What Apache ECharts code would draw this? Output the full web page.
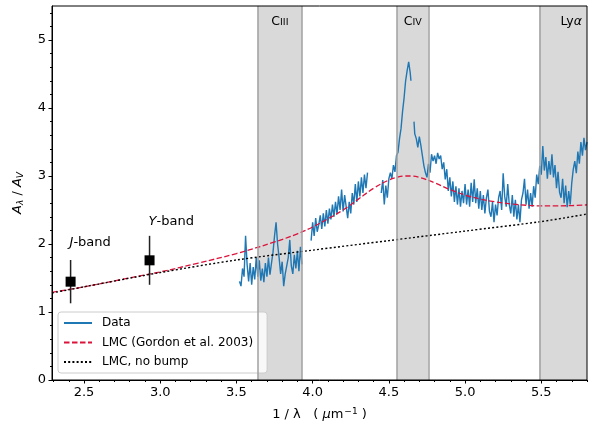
<!DOCTYPE html>
<html>
<head>
<meta charset="utf-8">
<script src="https://cdn.jsdelivr.net/npm/echarts@6.0.0/dist/echarts.min.js"></script>
<style>
  html, body { margin: 0; padding: 0; background: #fff; }
  #main { width: 596px; height: 423px; }
</style>
</head>
<body>
<div id="main"></div>
<script>
// tick values
const xTicks = [2.5, 3.0, 3.5, 4.0, 4.5, 5.0, 5.5]
const xMinorTicks = [2.3, 2.4, 2.6, 2.7, 2.8, 2.9, 3.1, 3.2, 3.3, 3.4, 3.6, 3.7, 3.8, 3.9,
	4.1, 4.2, 4.3, 4.4, 4.6, 4.7, 4.8, 4.9, 5.1, 5.2, 5.3, 5.4, 5.6, 5.7, 5.8]
const yTicks = [0, 1, 2, 3, 4, 5]
const yMinorTicks = [0.2, 0.4, 0.6, 0.8, 1.2, 1.4, 1.6, 1.8, 2.2, 2.4, 2.6, 2.8,
	3.2, 3.4, 3.6, 3.8, 4.2, 4.4, 4.6, 4.8, 5.2, 5.4]

// measured spectrum, '-' = gap
const spectrum = [
	[3.52, 1.45], [3.53, 1.38], [3.54, 1.64], [3.55, 1.52], [3.56, 2.12], [3.57, 1.70], [3.58, 1.45],
	[3.59, 1.72], [3.60, 1.40], [3.61, 1.66], [3.62, 1.48], [3.63, 1.80], [3.64, 1.52], [3.65, 1.76],
	[3.66, 1.46], [3.67, 1.64], [3.68, 1.44], [3.69, 1.72], [3.70, 1.52], [3.71, 1.80], [3.72, 1.55],
	[3.73, 1.72], [3.74, 1.88], [3.75, 2.12], [3.76, 2.32], [3.77, 2.00], [3.78, 1.80], [3.79, 1.56],
	[3.80, 1.74], [3.81, 1.38], [3.82, 1.56], [3.83, 1.68], [3.84, 1.80], [3.85, 2.06], [3.86, 1.68],
	[3.87, 1.56], [3.88, 1.84], [3.89, 1.64], [3.90, 1.90], [3.91, 1.60], [3.92, 1.96], [3.93, 1.70],
	[3.96, '-'],
	[3.99, 2.05], [4.00, 2.32], [4.01, 2.12], [4.02, 2.38], [4.03, 2.18], [4.04, 2.28], [4.05, 2.42],
	[4.06, 2.22], [4.07, 2.45], [4.08, 2.26], [4.09, 2.50], [4.10, 2.30], [4.11, 2.52], [4.12, 2.36],
	[4.13, 2.58], [4.14, 2.40], [4.15, 2.62], [4.16, 2.44], [4.17, 2.70], [4.18, 2.50], [4.19, 2.80],
	[4.20, 2.48], [4.21, 2.72], [4.22, 2.55], [4.23, 2.38], [4.24, 2.62], [4.25, 2.45], [4.26, 2.75],
	[4.27, 2.58], [4.28, 2.88], [4.29, 2.62], [4.30, 2.92], [4.31, 2.70], [4.32, 2.98], [4.33, 2.75],
	[4.34, 3.02], [4.35, 2.82], [4.36, 3.05],
	[4.40, '-'],
	[4.45, 2.75], [4.46, 2.94], [4.47, 2.58], [4.48, 2.86], [4.49, 2.68], [4.50, 2.96], [4.51, 3.05],
	[4.52, 2.96], [4.53, 3.16], [4.54, 3.06], [4.55, 3.30], [4.56, 3.35], [4.57, 3.55], [4.58, 3.70],
	[4.59, 3.95], [4.60, 4.15], [4.61, 4.40], [4.62, 4.55], [4.63, 4.68], [4.64, 4.52], [4.645, 4.40],
	[4.655, '-'],
	[4.665, 3.80], [4.67, 3.62], [4.68, 3.55], [4.69, 3.42], [4.70, 3.58], [4.71, 3.45], [4.72, 3.30],
	[4.73, 3.15], [4.74, 3.05], [4.75, 2.98], [4.76, 3.18], [4.77, 3.05], [4.78, 3.32], [4.79, 3.22],
	[4.80, 3.30], [4.81, 3.18], [4.82, 3.34], [4.83, 3.25], [4.84, 3.30], [4.85, 3.10], [4.86, 3.20],
	[4.87, 2.95], [4.88, 3.10], [4.89, 2.78], [4.90, 2.98], [4.91, 2.70], [4.92, 2.92], [4.93, 2.62],
	[4.94, 2.85], [4.95, 2.58], [4.96, 2.82], [4.97, 2.55], [4.98, 2.78], [4.99, 2.60], [5.00, 2.88],
	[5.01, 2.58], [5.02, 2.80], [5.03, 2.55], [5.04, 2.90], [5.05, 2.62], [5.06, 2.95], [5.07, 2.60],
	[5.08, 2.82], [5.09, 2.52], [5.10, 2.78], [5.11, 2.50], [5.12, 2.72], [5.13, 2.45], [5.14, 2.68],
	[5.15, 2.80], [5.16, 2.48], [5.17, 2.40], [5.18, 2.62], [5.19, 2.32], [5.20, 2.58], [5.21, 2.42],
	[5.22, 2.68], [5.23, 2.78], [5.24, 2.50], [5.25, 3.04], [5.26, 2.70], [5.27, 2.55], [5.28, 2.88],
	[5.29, 2.58], [5.30, 2.45], [5.31, 2.72], [5.32, 2.40], [5.33, 2.65], [5.34, 2.36], [5.35, 2.58],
	[5.36, 2.32], [5.37, 2.65], [5.38, 2.75], [5.39, 2.96], [5.40, 2.58], [5.41, 2.80], [5.42, 2.52],
	[5.43, 2.75], [5.44, 2.55], [5.45, 2.85], [5.46, 2.68], [5.47, 3.02], [5.48, 2.88], [5.49, 3.15],
	[5.50, 3.02], [5.51, 3.44], [5.52, 3.08], [5.53, 3.28], [5.54, 2.96], [5.55, 3.22], [5.56, 3.02],
	[5.57, 3.32], [5.58, 2.98], [5.59, 3.16], [5.60, 2.82], [5.61, 3.06], [5.62, 2.76], [5.63, 2.68],
	[5.64, 2.96], [5.65, 2.60], [5.66, 2.86], [5.67, 2.54], [5.68, 2.78], [5.69, 2.58], [5.70, 2.90],
	[5.71, 3.10], [5.72, 3.22], [5.73, 3.04], [5.74, 3.36], [5.75, 3.18], [5.76, 3.50], [5.77, 3.30],
	[5.78, 3.56], [5.79, 3.38], [5.80, 3.50]
]

// LMC extinction curve (Gordon et al. 2003)
const lmcX = [2.29, 2.5, 2.75, 3.0, 3.25, 3.5, 3.75, 3.9, 4.0, 4.1, 4.2, 4.3, 4.4, 4.5, 4.55, 4.6,
	4.65, 4.7, 4.8, 4.9, 5.0, 5.1, 5.2, 5.3, 5.4, 5.5, 5.6, 5.7, 5.8]
const lmcY = [1.29, 1.37, 1.48, 1.59, 1.72, 1.86, 2.03, 2.15, 2.25, 2.37, 2.50, 2.66, 2.82, 2.94, 2.98, 3.00,
	3.00, 2.98, 2.90, 2.80, 2.72, 2.66, 2.62, 2.59, 2.57, 2.56, 2.56, 2.565, 2.575]

// LMC, no bump
const noBumpX = [2.29, 2.5, 3.0, 3.5, 4.0, 4.5, 5.0, 5.5, 5.8]
const noBumpY = [1.28, 1.37, 1.58, 1.765, 1.91, 2.05, 2.19, 2.33, 2.44]

// photometric bands
const bandNames = ['J', 'Y']
const bandX = [2.412, 2.93]
const bandY = [1.446, 1.76]
const bandLo = [1.128, 1.40]
const bandHi = [1.765, 2.12]

// emission line regions
const lineNames = ['C|III', 'C|IV', 'Ly|α']
const lineFrom = [3.64, 4.553, 5.487]
const lineTo = [3.93, 4.76, 5.8]

const FONT = 'DejaVu Sans'

const zip = (xs, ys) => xs.map((x, i) => [x, ys[i]])

const lineLabel = (name) => {
	const [a, b] = name.split('|')
	if (b === 'α') return `{n|${a}}{i|${b}}`
	return `{n|${a}}{s|${b}}`
}

const chart = echarts.init(document.getElementById('main'), null, { renderer: 'canvas' })

const option = {
	animation: false,
	textStyle: { fontFamily: FONT, color: '#000' },
	grid: {
		left: 52, right: 9, top: 6, bottom: 43, outerBoundsMode: 'none', containLabel: false,
		show: true, borderColor: '#000', borderWidth: 1, z: 10,
	},
	legend: {
		left: 58, top: 312, orient: 'vertical',
		data: ['Data', 'LMC (Gordon et al. 2003)', 'LMC, no bump'],
		itemWidth: 28, itemHeight: 12, itemGap: 7.5,
		padding: [5, 14, 5, 5],
		itemStyle: { opacity: 0 },
		backgroundColor: 'rgba(255,255,255,0.8)',
		borderColor: '#cccccc', borderWidth: 1, borderRadius: 3,
		textStyle: { fontFamily: FONT, fontSize: 12, color: '#000', padding: [0, 0, 0, 5] },
	},
	xAxis: [{
		type: 'value', min: 2.29, max: 5.8, position: 'bottom',
		splitLine: { show: false },
		axisLine: { lineStyle: { color: '#000', width: 1 } },
		axisTick: { customValues: xTicks, length: 3.5, lineStyle: { color: '#000' } },
		axisLabel: { customValues: xTicks, formatter: v => v.toFixed(1), fontSize: 13, color: '#000', margin: 6, fontFamily: FONT },
		name: '{t|1 / λ   ( }{i|μ}{t|m}{sup|−1}{t| )}',
		nameLocation: 'middle', nameGap: 27,
		nameTextStyle: {
			rich: {
				t: { fontSize: 13, fontFamily: FONT, color: '#000' },
				i: { fontSize: 13, fontFamily: FONT, fontStyle: 'italic', color: '#000' },
				sup: { fontSize: 9, fontFamily: FONT, color: '#000', verticalAlign: 'top', padding: [0, 0, 6, 1] },
			},
		},
	}, {
		type: 'value', min: 2.29, max: 5.8, position: 'bottom',
		axisLine: { show: false }, splitLine: { show: false }, axisLabel: { show: false },
		axisTick: { customValues: xMinorTicks, length: 2, lineStyle: { color: '#000' } },
	}],
	yAxis: [{
		type: 'value', min: 0, max: 5.5, position: 'left',
		splitLine: { show: false },
		axisLine: { show: true, lineStyle: { color: '#000', width: 1 } },
		axisTick: { show: true, customValues: yTicks, length: 3.5, lineStyle: { color: '#000' } },
		axisLabel: { customValues: yTicks, fontSize: 13, color: '#000', margin: 6, fontFamily: FONT },
		name: '{i|A}{sub|λ}{t| / }{i|A}{sub|V}',
		nameLocation: 'middle', nameGap: 27, nameRotate: 90,
		nameTextStyle: {
			rich: {
				t: { fontSize: 13, fontFamily: FONT, color: '#000' },
				i: { fontSize: 13, fontFamily: FONT, fontStyle: 'italic', color: '#000' },
				sub: { fontSize: 9, fontFamily: FONT, fontStyle: 'italic', color: '#000', verticalAlign: 'bottom', padding: [6, 0, 0, 0] },
			},
		},
	}, {
		type: 'value', min: 0, max: 5.5, position: 'left',
		axisLine: { show: false }, splitLine: { show: false }, axisLabel: { show: false },
		axisTick: { show: true, customValues: yMinorTicks, length: 2, lineStyle: { color: '#000' } },
	}],
	series: [
		{
			name: 'regions', type: 'line', data: [], z: 1, silent: true,
			markArea: {
				silent: true,
				itemStyle: { color: '#d9d9d9' },
				label: {
					show: true, position: 'insideTop', distance: 9,
					rich: {
						n: { fontSize: 12.5, fontFamily: FONT, color: '#000' },
						s: { fontSize: 9.5, fontFamily: FONT, color: '#000', padding: [2, 0, 0, 0] },
						i: { fontSize: 12.5, fontFamily: FONT, fontStyle: 'italic', color: '#000' },
					},
				},
				data: lineNames.map((n, i) => [
					{ xAxis: lineFrom[i], name: n, label: { formatter: lineLabel(n), offset: [i === 2 ? 8 : 0, 0] } },
					{ xAxis: lineTo[i] },
				]),
			},
			markLine: {
				silent: true, symbol: 'none', label: { show: false },
				lineStyle: { color: '#a0a0a0', width: 1.5, type: 'solid' },
				data: lineFrom.concat(lineTo.slice(0, 2)).map(x => ({ xAxis: x })),
			},
		},
		{
			name: 'Data', type: 'line', data: spectrum, z: 3,
			showSymbol: false, symbol: 'none', connectNulls: false,
			lineStyle: { color: '#1f77b4', width: 1.4 }, itemStyle: { color: '#1f77b4' },
		},
		{
			name: 'LMC (Gordon et al. 2003)', type: 'line', data: zip(lmcX, lmcY), z: 4,
			smooth: 0.4, showSymbol: false, symbol: 'none',
			lineStyle: { color: '#dc143c', width: 1.3, type: [5.5, 2.5] }, itemStyle: { color: '#dc143c' },
		},
		{
			name: 'LMC, no bump', type: 'line', data: zip(noBumpX, noBumpY), z: 4,
			smooth: 0.3, showSymbol: false, symbol: 'none',
			lineStyle: { color: '#000', width: 1.4, type: [2, 2.2] }, itemStyle: { color: '#000' },
		},
		{
			name: 'errors', type: 'custom', z: 5,
			data: bandX.map((x, i) => [x, bandLo[i], bandHi[i]]),
			encode: { x: 0, y: [1, 2] },
			renderItem: (params, api) => {
				const lo = api.coord([api.value(0), api.value(1)])
				const hi = api.coord([api.value(0), api.value(2)])
				return {
					type: 'line',
					shape: { x1: lo[0], y1: lo[1], x2: hi[0], y2: hi[1] },
					style: { stroke: '#222', lineWidth: 1.5 },
				}
			},
		},
		{
			name: 'bands', type: 'scatter', z: 6,
			symbol: 'rect', symbolSize: 10,
			itemStyle: { color: '#000', opacity: 1 },
			data: bandX.map((x, i) => ({ value: [x, bandY[i]], name: bandNames[i] })),
			label: {
				show: true, position: [4, -34], align: 'left', verticalAlign: 'middle',
				formatter: p => `{i|${p.name}}{t|-band}`,
				rich: {
					i: { fontSize: 13, fontFamily: FONT, fontStyle: 'italic', color: '#000' },
					t: { fontSize: 13, fontFamily: FONT, color: '#000' },
				},
			},
		},
	],
}

chart.setOption(option)
</script>
</body>
</html>
